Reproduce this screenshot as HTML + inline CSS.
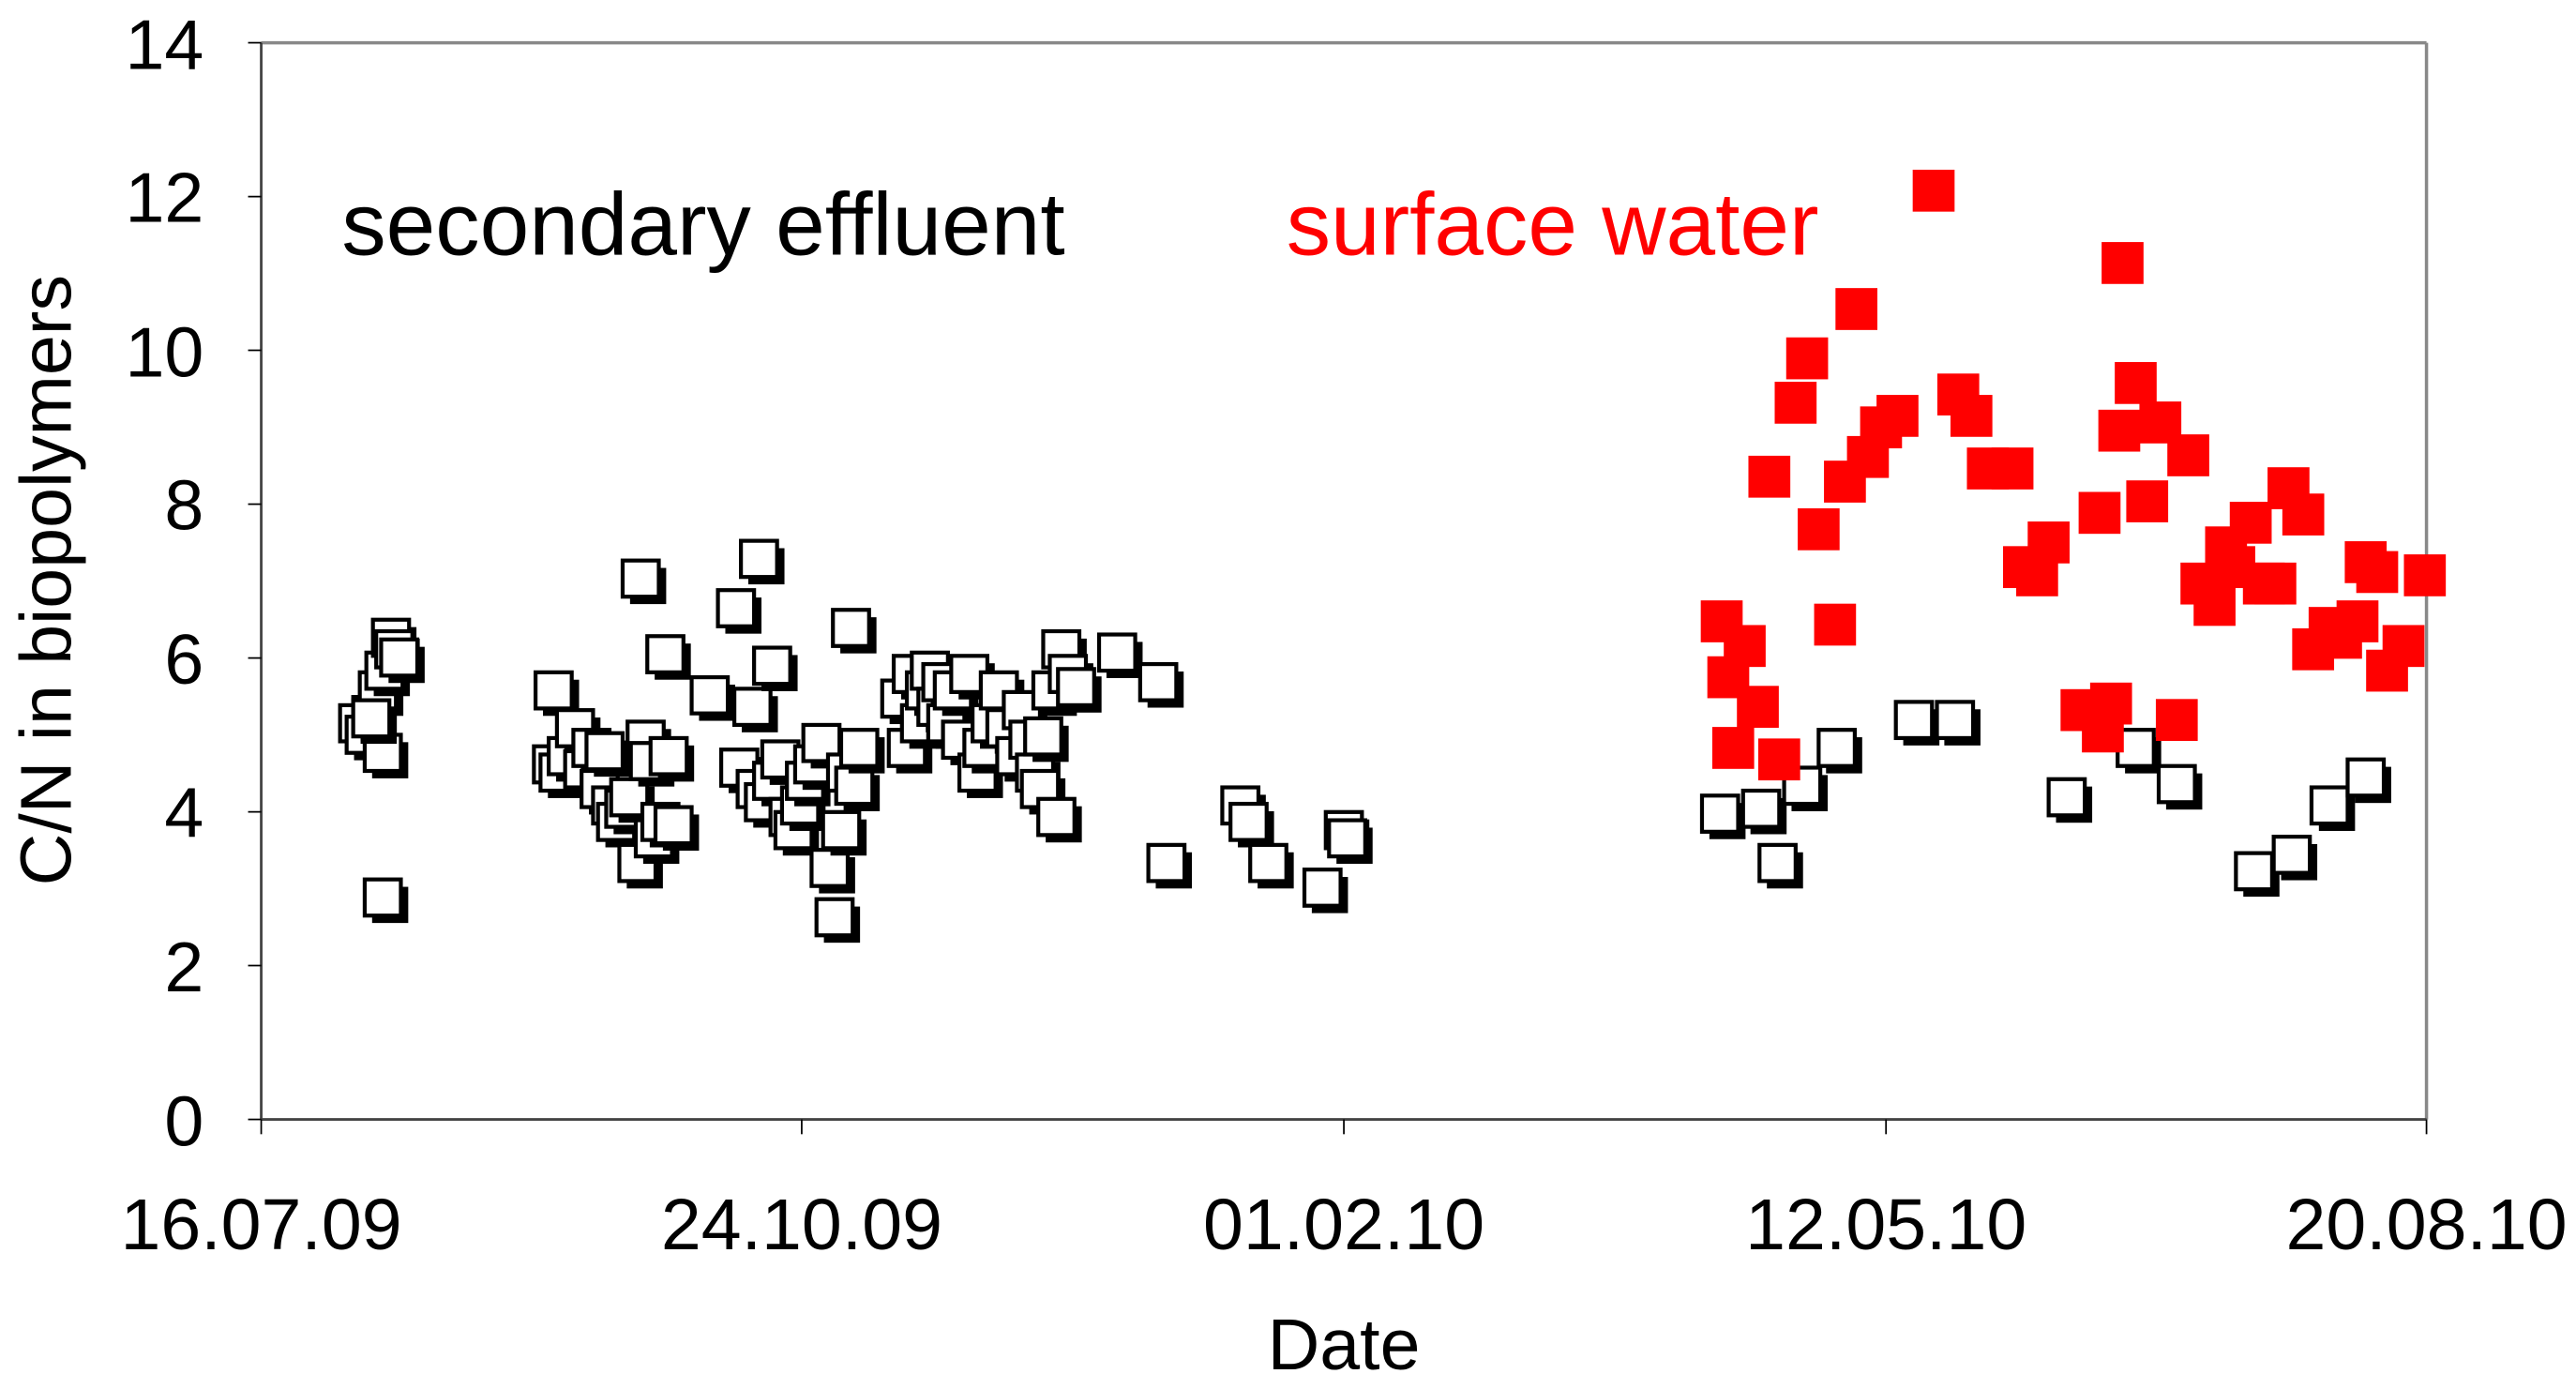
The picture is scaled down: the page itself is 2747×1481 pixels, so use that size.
<!DOCTYPE html>
<html><head><meta charset="utf-8"><style>html,body{margin:0;padding:0;background:#fff}svg{display:block}</style></head>
<body>
<svg width="2747" height="1481" viewBox="0 0 1568 845" preserveAspectRatio="none" xmlns="http://www.w3.org/2000/svg" font-family="Liberation Sans, Arial, sans-serif">
<rect width="1568" height="845" fill="#fff"/>
<line x1="159" y1="26" x2="1477" y2="26" stroke="#888" stroke-width="2"/>
<line x1="1477" y1="26" x2="1477" y2="681" stroke="#888" stroke-width="2"/>
<line x1="159" y1="26" x2="159" y2="681" stroke="#444" stroke-width="1.6"/>
<line x1="159" y1="681" x2="1477" y2="681" stroke="#444" stroke-width="1.6"/>
<g stroke="#000" stroke-width="1">
<line x1="151" y1="26" x2="159" y2="26"/><line x1="151" y1="119.6" x2="159" y2="119.6"/><line x1="151" y1="213.1" x2="159" y2="213.1"/><line x1="151" y1="306.7" x2="159" y2="306.7"/><line x1="151" y1="400.3" x2="159" y2="400.3"/><line x1="151" y1="493.9" x2="159" y2="493.9"/><line x1="151" y1="587.4" x2="159" y2="587.4"/><line x1="151" y1="681" x2="159" y2="681"/>
<line x1="159" y1="681" x2="159" y2="690"/><line x1="488" y1="681" x2="488" y2="690"/><line x1="818" y1="681" x2="818" y2="690"/><line x1="1148" y1="681" x2="1148" y2="690"/><line x1="1477" y1="681" x2="1477" y2="690"/>
</g>
<g font-size="43" text-anchor="end" fill="#000">
<text x="124" y="42">14</text><text x="124" y="135">12</text><text x="124" y="229">10</text><text x="124" y="322">8</text><text x="124" y="416">6</text><text x="124" y="509">4</text><text x="124" y="603">2</text><text x="124" y="697">0</text>
</g>
<g font-size="44" text-anchor="middle" fill="#000">
<text x="159" y="760">16.07.09</text><text x="488" y="760">24.10.09</text><text x="818" y="760">01.02.10</text><text x="1148" y="760">12.05.10</text><text x="1477" y="760">20.08.10</text>
<text x="818" y="833">Date</text>
<text transform="translate(43,353) rotate(-90)">C/N in biopolymers</text>
</g>
<text x="208" y="155" font-size="54" fill="#000">secondary effluent</text>
<text x="783" y="155" font-size="54" fill="#f00">surface water</text>
<g id="w"></g>
<g id="r"></g>
<script>
var W=[[218,440],[222,447],[226,435],[230,420],[234,408],[238,388],[240,395],[243,400],[233,458],[233,546],[226,437],
[337,420],[336,465],[340,470],[345,460],[350,443],[355,468],[360,455],[365,480],[368,457],[372,490],[375,500],[380,492],[383,485],[388,525],[390,352],[393,450],[395,463],[398,510],[402,500],[405,398],[407,460],[410,502],
[432,423],[448,370],[450,467],[458,430],[462,340],[470,405],[460,480],[465,488],[470,475],[475,462],[480,497],[483,505],[487,490],[490,475],[495,465],[500,452],[505,528],[508,558],[512,505],[515,470],[518,382],[520,478],[523,455],
[548,425],[552,455],[555,410],[560,440],[563,420],[566,408],[570,430],[573,415],[576,440],[580,420],[585,450],[590,410],[595,470],[598,455],[603,440],[608,420],[612,443],[618,460],[622,432],[626,450],[630,470],[633,480],[635,448],[640,420],[643,497],[646,395],[650,410],[655,418],
[680,397],[705,415],[710,525],[755,490],[760,500],[772,525],[805,540],[818,505],[820,510],
[1047,495],[1072,492],[1082,525],[1097,478],[1118,455],[1165,438],[1190,438],[1258,485],[1300,455],[1325,477],[1372,530],[1395,520],[1418,490],[1440,473]];
var R=[[1048,378],[1052,412],[1055,455],[1062,393],[1070,430],[1077,290],[1083,462],[1093,245],[1100,218],[1107,322],[1117,380],[1123,293],[1130,188],[1137,278],[1145,260],[1155,253],[1177,116],[1192,240],[1200,253],[1210,285],[1225,285],[1232,345],[1240,350],[1247,330],[1267,432],[1278,312],[1280,445],[1285,428],[1290,262],[1292,160],[1300,233],[1307,305],[1315,257],[1325,438],[1332,277],[1340,355],[1348,368],[1355,333],[1360,345],[1370,318],[1378,355],[1385,355],[1393,297],[1402,313],[1408,395],[1418,382],[1425,388],[1435,378],[1440,342],[1447,348],[1453,408],[1463,393],[1476,350]];
var ns="http://www.w3.org/2000/svg",gw=document.getElementById("w"),gr=document.getElementById("r");
function rc(g,x,y,s,a){var e=document.createElementNS(ns,"rect");e.setAttribute("x",x);e.setAttribute("y",y);e.setAttribute("width",s);e.setAttribute("height",s);for(var k in a)e.setAttribute(k,a[k]);g.appendChild(e);}
W.forEach(function(p){var s=22,h=s/2;rc(gw,p[0]-h+4.5,p[1]-h+4.5,s,{fill:"#000"});rc(gw,p[0]-h,p[1]-h,s,{fill:"#fff",stroke:"#000","stroke-width":2.4});});
R.forEach(function(p){var s=25.5,h=s/2;rc(gr,p[0]-h,p[1]-h,s,{fill:"#f00"});});
</script>
</svg>
</body></html>
